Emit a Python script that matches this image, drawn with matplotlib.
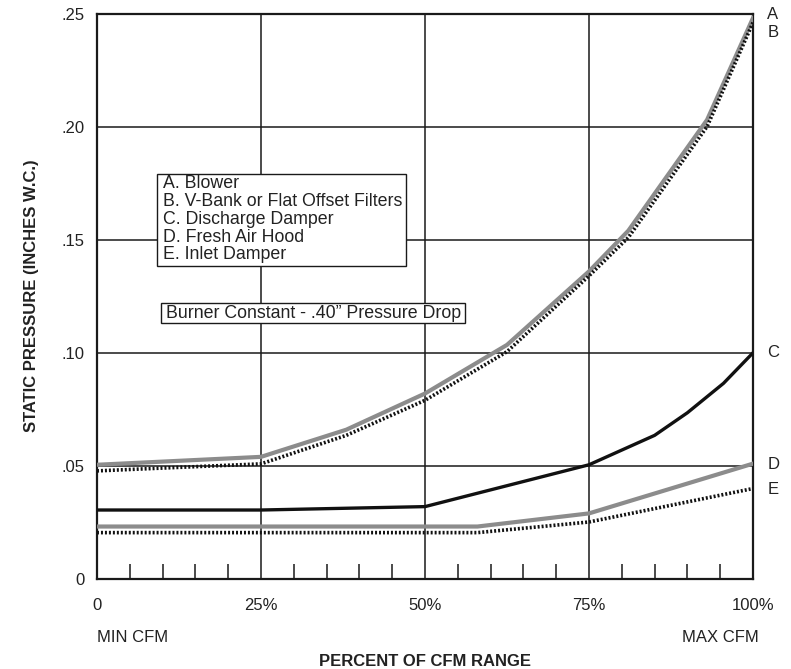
import matplotlib
matplotlib.use("Agg")
import matplotlib.pyplot as plt
from matplotlib.patches import Rectangle

plt.rcParams["font.family"] = ["Liberation Sans", "DejaVu Sans"]

# percent of CFM range (x) and static pressure, inches W.C. (y)
pct_a = [0, 25, 38, 50, 62.5, 75, 81, 93, 100]
blower = [0.0505, 0.054, 0.066, 0.082, 0.1035, 0.136, 0.154, 0.203, 0.248]

pct_b = [0, 25, 38, 50, 62.5, 75, 81, 93, 100]
filters = [0.0478, 0.0509, 0.0635, 0.079, 0.1005, 0.134, 0.151, 0.200, 0.246]

pct_c = [0, 25, 50, 75, 85, 90, 95.5, 100]
discharge = [0.0305, 0.0305, 0.032, 0.0505, 0.0635, 0.0735, 0.0865, 0.100]

pct_d = [0, 58, 75, 100]
fresh_air = [0.0232, 0.0232, 0.029, 0.051]

pct_e = [0, 58, 75, 100]
inlet = [0.0205, 0.0205, 0.0252, 0.040]

x_ticks = [0, 25, 50, 75, 100]
x_labels = ["0", "25%", "50%", "75%", "100%"]
y_ticks = [0, 0.05, 0.10, 0.15, 0.20, 0.25]
y_labels = ["0", ".05", ".10", ".15", ".20", ".25"]

curve_tags = ["A", "B", "C", "D", "E"]
tag_y = [0.2495, 0.2415, 0.100, 0.0505, 0.0395]

legend_lines = ["A. Blower", "B. V-Bank or Flat Offset Filters",
                "C. Discharge Damper", "D. Fresh Air Hood", "E. Inlet Damper"]

W, H = 791, 669
GRAY = "#8c8c8c"
INK = "#222222"


def fx(px):
    return px / W


def fy(py):
    return 1 - py / H


def box(x0, y0, x1, y1):
    # rectangle given in pixel corners (top-left origin)
    fig.patches.append(Rectangle((fx(x0), fy(y1)), fx(x1) - fx(x0), fy(y0) - fy(y1),
                                 transform=fig.transFigure, fc="white", ec="#1a1a1a",
                                 lw=1, zorder=5))


fig = plt.figure(figsize=(W / 100, H / 100), dpi=100)
ax = fig.add_axes([fx(97), fy(579), fx(753) - fx(97), fy(13.5) - fy(579)])
ax.set_xlim(0, 100)
ax.set_ylim(0, 0.25)

# grid
for gx in x_ticks[1:-1]:
    ax.axvline(gx, color="#1a1a1a", lw=1.1, zorder=1)
for gy in y_ticks[1:-1]:
    ax.axhline(gy, color="#1a1a1a", lw=1.1, zorder=1)

dot = dict(color="#111111", lw=2.6, linestyle=(0, (0.55, 0.55)), dash_capstyle="butt")

ax.plot(pct_a, blower, color=GRAY, lw=3, zorder=3)
ax.plot(pct_b, filters, zorder=4, **dot)
ax.plot(pct_c, discharge, color="#111111", lw=2.4, zorder=3)
ax.plot(pct_d, fresh_air, color=GRAY, lw=3, zorder=3)
ax.plot(pct_e, inlet, zorder=4, **dot)

for sp in ax.spines.values():
    sp.set_linewidth(1.6)
    sp.set_color("#1a1a1a")

ax.set_xticks(x_ticks)
ax.set_xticklabels(x_labels)
ax.set_xticks([v for v in range(5, 100, 5) if v % 25], minor=True)
ax.set_yticks(y_ticks)
ax.set_yticklabels(y_labels)
ax.tick_params(axis="x", which="major", length=0, pad=14, labelsize=12, colors=INK)
ax.tick_params(axis="x", which="minor", direction="in", length=11, width=1.1, color="#1a1a1a")
ax.tick_params(axis="y", length=0, pad=9, labelsize=12, colors=INK)

# curve tags on the right
for tag, ty in zip(curve_tags, tag_y):
    ax.text(102.2, ty, tag, fontsize=12, color=INK, va="center", ha="left", clip_on=False)

# key box
box(157, 174, 406, 266)
for i, line in enumerate(legend_lines):
    fig.text(fx(163), fy(188.5 + i * 17.7), line, fontsize=12.8, color=INK,
             va="baseline", ha="left", zorder=6)

box(161, 303, 465, 323)
fig.text(fx(166.5), fy(317.5), "Burner Constant - .40\u201d Pressure Drop", fontsize=12.8,
         color=INK, va="baseline", ha="left", zorder=6)

fig.text(fx(97), fy(637), "MIN CFM", fontsize=12, color=INK, va="center", ha="left")
fig.text(fx(759), fy(637), "MAX CFM", fontsize=12, color=INK, va="center", ha="right")
fig.text(fx(425), fy(661), "PERCENT OF CFM RANGE", fontsize=12, fontweight="bold",
         color=INK, va="center", ha="center")
fig.text(fx(32), fy(296), "STATIC PRESSURE (INCHES W.C.)", fontsize=12, fontweight="bold",
         color=INK, va="center", ha="center", rotation=90)

fig.savefig("out.png", dpi=100)
